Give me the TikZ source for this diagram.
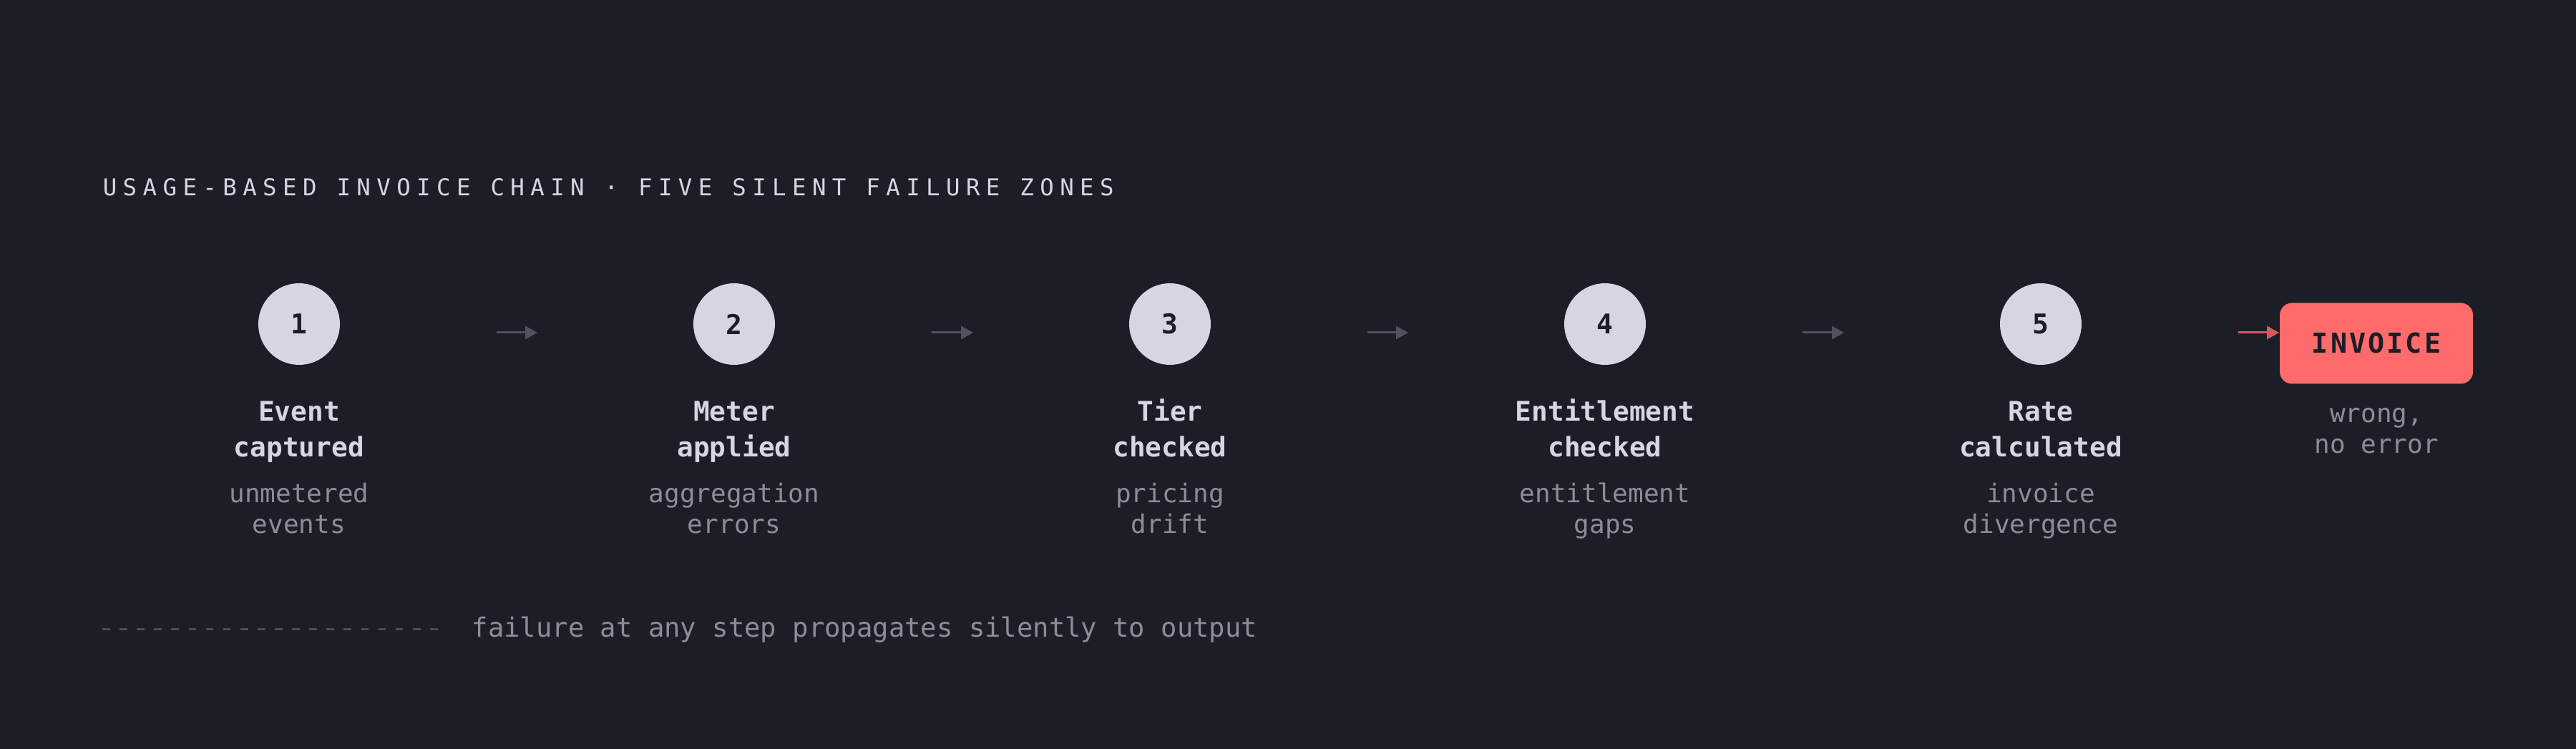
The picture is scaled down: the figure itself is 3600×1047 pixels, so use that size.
\documentclass[tikz,border=0pt]{standalone}
\usepackage{tikz}
\usepackage{xcolor}
\usepackage{fontspec}
\usetikzlibrary{arrows.meta}
\setmainfont{DejaVu Sans Mono}
\newfontfamily\spacedfont[LetterSpace=26]{DejaVu Sans Mono}
\newfontfamily\boxfont[LetterSpace=8]{DejaVu Sans Mono}
\definecolor{bgdark}{HTML}{1B1D27}
\definecolor{chalk}{HTML}{D4D7E2}
\definecolor{mist}{HTML}{8B8D98}
\definecolor{slate}{HTML}{50535E}
\definecolor{coral}{HTML}{FF6B6B}
\definecolor{coraldim}{HTML}{D65A5A}
\definecolor{dashgray}{HTML}{4A4D58}

\begin{document}
\begin{tikzpicture}[x=0.25pt,y=-0.25pt]
\tikzstyle{every node}+=[inner sep=0pt]
\tikzstyle{stage}=[circle,fill=chalk,minimum size=28.5pt,text=bgdark,font=\bfseries\fontsize{9.5}{11}\selectfont]
\tikzstyle{stagename}=[anchor=north,align=center,text=chalk,font=\bfseries\fontsize{9.45}{12.5}\selectfont]
\tikzstyle{stagenote}=[anchor=north,align=center,text=mist,font=\fontsize{9}{10.75}\selectfont]
\tikzstyle{flow}=[slate,line width=0.75pt,-{Triangle[length=4.25pt,width=4.5pt]},shorten <=54.5pt,shorten >=54.25pt]
\tikzstyle{outbox}=[rounded corners=4.25pt,fill=coral,minimum width=67.5pt,minimum height=28.25pt,text=bgdark,font=\boxfont\bfseries\fontsize{9.6}{11}\selectfont]
\fill [bgdark] (0,0) rectangle (3600,1047);
\useasboundingbox (0,0) rectangle (3600,1047);
\node [anchor=base west,text=chalk,font=\spacedfont\fontsize{8.1}{9.5}\selectfont] (head) at (143,274) {USAGE-BASED INVOICE CHAIN · FIVE SILENT FAILURE ZONES};
\node [stage] (s1) at (418,453) {1};
\node [stage] (s2) at (1026,453) {2};
\node [stage] (s3) at (1635,453) {3};
\node [stage] (s4) at (2243,453) {4};
\node [stage] (s5) at (2852,453) {5};
\node [outbox] (inv) at (3321,480) {INVOICE};
\draw [flow] ([yshift=-3pt]s1.east) -- ([yshift=-3pt]s2.west);
\draw [flow] ([yshift=-3pt]s2.east) -- ([yshift=-3pt]s3.west);
\draw [flow] ([yshift=-3pt]s3.east) -- ([yshift=-3pt]s4.west);
\draw [flow] ([yshift=-3pt]s4.east) -- ([yshift=-3pt]s5.west);
\draw [flow,coraldim,shorten >=0pt] ([yshift=-3pt]s5.east) -- ([yshift=-3pt]s5.east -| inv.west);
\node [stagename] (n1) at (418,553) {\strut Event\\captured};
\node [stagename] (n2) at (1026,553) {\strut Meter\\applied};
\node [stagename] (n3) at (1635,553) {\strut Tier\\checked};
\node [stagename] (n4) at (2243,553) {\strut Entitlement\\checked};
\node [stagename] (n5) at (2852,553) {\strut Rate\\calculated};
\node [stagenote] (f1) at (418,672) {\strut unmetered\\events};
\node [stagenote] (f2) at (1026,672) {\strut aggregation\\errors};
\node [stagenote] (f3) at (1635,672) {\strut pricing\\drift};
\node [stagenote] (f4) at (2243,672) {\strut entitlement\\gaps};
\node [stagenote] (f5) at (2852,672) {\strut invoice\\divergence};
\node [stagenote] (f6) at (3321,560) {\strut wrong,\\no error};
\coordinate (lg1) at (143,879);
\coordinate (lg2) at (612,879);
\draw [dashgray,line width=0.75pt,dash pattern=on 2.675pt off 3.35pt] (lg1) -- (lg2);
\node [anchor=base west,text=mist,font=\fontsize{9.3}{11}\selectfont] (foot) at (659,890) {failure at any step propagates silently to output};
\end{tikzpicture}
\end{document}
